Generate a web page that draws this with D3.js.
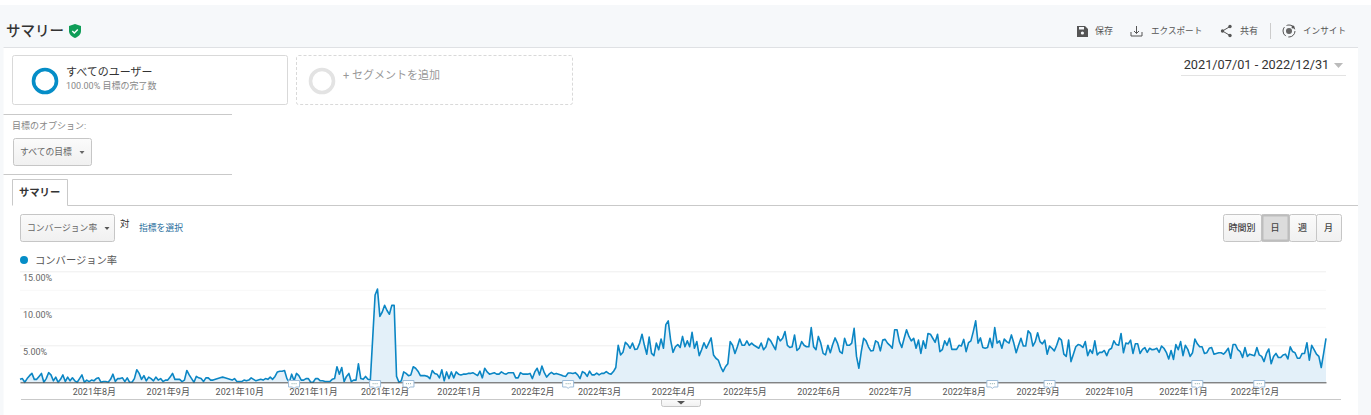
<!DOCTYPE html>
<html>
<head>
<meta charset="utf-8">
<script src="https://cdn.jsdelivr.net/npm/d3@7/dist/d3.min.js"></script>
<style>
  body { margin: 0; background: #fff; }
  svg { display: block; }
  text { font-family: Roboto, "Noto Sans CJK JP", sans-serif; }
</style>
</head>
<body>
<div class="chart"></div>
<script>
// daily conversion rate (%), one array per month
var jul21 = [.4,.5,0,.5,.9,1.2,.4,.4,.8,1.2,0,.5,1.3,1,.2,.7,0,.4,1,.1,.7,.2,.6,.2,0,.5,1,0,.3,.1,.3];
var aug21 = [.2,.5,.6,0,.1,.1,0,.4,1.1,.1,.5,.5,.6,.1,.6,0,0,.5,1.7,1.2,.4,.9,.2,.7,.5,.2,.7,.3,.5,.1,.3];
var sep21 = [.3,.7,1.2,.4,.4,.4,.1,.3,1.6,1,.5,0,.8,.6,.5,.1,.6,.6,.3,.3,.4,.5,.6,.7,.6,.5,.4,.3,.5,.1];
var oct21 = [.1,.1,.3,.2,.3,.6,.4,.2,.3,.4,.3,.5,.4,.7,.4,.8,1.4,1.5,1.5,1.6,.5,0,1.1,.2,1.2,.9,.3,.3,.5,.5,0];
var nov21 = [0,.5,.5,.2,.2,.1,.1,.1,.4,.5,2.1,1.1,2,.1,.8,1.2,.1,.3,.3,2.5,.5,.4,.8,.4,.3,6,11.8,12.6,8.9,9.5];
var dec21 = [10.4,9.7,9.2,10.4,10.4,.8,0,.2,1.4,1.2,.9,1,2.1,1.9,1.5,.9,.9,.9,.8,.5,1.6,1.2,1.1,.6,1.7,.2,1.4,.5,1.4,.6,1.4];
var jan22 = [1.1,1,1.1,1.1,1.2,1.2,1.3,1.1,.9,1.5,.6,1.9,1.4,1.1,1.2,1.3,1.1,1.1,1.4,1.2,1.1,1.3,1.3,1.3,.6,.6,1.3,1.1,1.1,1.1,1.2];
var feb22 = [.5,1.4,1.9,1,2.2,1.3,.7,1.1,1.35,1.1,1.2,1.1,1,.85,.8,1.25,1.25,1.2,1.3,1,.5,1.45,1.25,.8,1.5,1,1,1.25];
var mar22 = [1,1.2,1.2,1.45,1.2,1.1,1.45,2,5,3.7,4.05,5.4,5.1,4.6,5.3,4.45,4.5,5.3,6.5,5,3.8,6.1,3.9,3.6,5.3,4.4,5.85,4.6,7.8,8.3,5.7];
var apr22 = [4.05,4.8,5.1,4.7,6.2,4.8,5.6,4.8,6.75,4.6,5.5,3.6,4.4,5.35,4.6,5.3,6,3.7,3.25,3,2.1,1.45,2.1,2.5,5.5,5,3.9,4.8,5.85,5];
var may22 = [5,5.6,5,5.3,5,4.8,4.6,5.3,4.4,4.8,5.95,5.6,5,4.4,6.2,5.6,5.95,6.85,5,4.7,4.8,6.4,4.3,4.6,5.5,5,4.8,4.8,7.4,4.8,4.4];
var jun22 = [6.2,5.3,3.9,3.7,5,4,5.1,6,5.3,4.15,3.9,5.95,5,5,5.3,7.3,3.5,1.9,4.15,5.95,5.6,4.8,4.25,4.3,5.6,5.4,4.25,5.7,5.8,5.3];
var jul22 = [5,4.6,7.1,7.1,5.5,4.7,5.95,7.1,6.2,5.6,5.95,4.6,5.7,3.9,5.6,4.6,6.6,6.5,5.95,5.4,6.5,4.15,4.4,5.6,5,5.95,4.45,4.45,4.45,5,4.9];
var aug22 = [5.8,4.15,5.35,5.6,6.85,8.3,5.3,6,4.7,4.6,4.7,5.95,4.7,7.4,5.3,5.6,4.6,5.85,5.5,5.3,6.4,5.3,4,5,5.95,4.9,4.9,6.95,6.6,4.9,5.5];
var sep22 = [6.7,5.5,5.2,5.7,3.8,4.9,4.6,4.25,5,6,5.7,3.8,3.5,5.7,2.8,3.8,4.8,5.1,5,4.7,5.5,3.6,4.4,3.9,5.6,3.7,4.05,4.05,4.3,3.6];
var oct22 = [4.4,4.6,5.6,5.1,5,6.6,4,5.3,5.2,5.7,3.9,5.2,5.2,3.9,4.45,4.7,4.05,4.6,4.4,4.45,4.6,4.05,4.9,4.6,4.05,3.15,4.3,3.1,5.1,4.4,5.5];
var nov22 = [3.6,5,4.45,3.5,4,5.85,5.2,4.8,4.8,3.9,4,4.6,4.7,3.8,3.9,4,4,3.8,4.15,4.6,3.25,5.1,5.1,4.4,4.15,3.35,4.7,3.5,3.8,3.7];
var dec22 = [3.6,4.7,3.7,3.5,2.8,3.9,4.5,2.5,3.5,3.9,3.35,3.35,3.7,3.8,3.15,4.8,4.15,4,3.25,3.25,3.9,3.9,5.35,3,5,4.4,3.8,3.5,2,3.9,5.95];

var dailyRates = [jul21, aug21, sep21, oct21, nov21, dec21, jan22, feb22, mar22, apr22,
  may22, jun22, jul22, aug22, sep22, oct22, nov22, dec22].flat();

var yTicks = [0, 2.5, 5, 7.5, 10, 12.5, 15];
var yLabels = [5, 10, 15];
var monthTicks = ["2021-08-01", "2021-09-01", "2021-10-01", "2021-11-01", "2021-12-01", "2022-01-01",
  "2022-02-01", "2022-03-01", "2022-04-01", "2022-05-01", "2022-06-01", "2022-07-01", "2022-08-01",
  "2022-09-01", "2022-10-01", "2022-11-01", "2022-12-01"];
var noteDates = ["2021-10-24", "2021-11-27", "2021-12-11", "2022-02-16", "2022-08-13", "2022-09-06",
  "2022-11-07", "2022-12-03"];
var toggleLabels = ["時間別", "日", "週", "月"];
var startDay = new Date(Date.UTC(2021, 6, 1));
var endDay = new Date(Date.UTC(2022, 11, 31));

var svg = d3.select(".chart").append("svg").attr("width", 1371).attr("height", 415);

// page furniture
svg.append("rect").attr("x", 0).attr("y", 5).attr("width", 1371).attr("height", 42).attr("fill", "#f6f8fa");
svg.append("rect").attr("x", 0).attr("y", 5).attr("width", 3.5).attr("height", 410).attr("fill", "#f6f8fa");
svg.append("rect").attr("x", 1358).attr("y", 5).attr("width", 13).attr("height", 410).attr("fill", "#f6f8fa");

function hline(y, x1, x2, color) {
  svg.append("line").attr("x1", x1).attr("x2", x2).attr("y1", y).attr("y2", y).attr("stroke", color);
}
function label(str, x, y, size, color, weight) {
  return svg.append("text").attr("x", x).attr("y", y).attr("font-size", size)
    .attr("fill", color).attr("font-weight", weight || 400).text(str);
}
function tri(x, y, w, h, color) {
  svg.append("path").attr("d", `M${x - w / 2},${y}h${w}l${-w / 2},${h}z`).attr("fill", color);
}
function button(x, y, w, h, fill) {
  return svg.append("rect").attr("x", x + 0.5).attr("y", y + 0.5).attr("width", w).attr("height", h)
    .attr("rx", 2).attr("fill", fill || "url(#btn)").attr("stroke", "#c6c6c6");
}

var grad = svg.append("defs").append("linearGradient").attr("id", "btn").attr("x2", 0).attr("y2", 1);
grad.append("stop").attr("offset", 0).attr("stop-color", "#fbfbfb");
grad.append("stop").attr("offset", 1).attr("stop-color", "#f0f0f0");

hline(47.5, 3.5, 1358, "#dfe1e4");
hline(114.5, 3.5, 232, "#c9c9c9");
hline(174.5, 3.5, 232, "#c9c9c9");

// header
label("サマリー", 6, 36, 14.5, "#333", 500);
svg.append("path").attr("d", "M75,24l6,2v5c0,3.5-2.5,5.5-6,7c-3.5-1.5-6-3.5-6-7v-5z").attr("fill", "#0f9d58");
svg.append("path").attr("d", "M72.3,31l2,2l3.5-3.6").attr("fill", "none").attr("stroke", "#fff").attr("stroke-width", 1.4);

// toolbar icons
svg.append("path").attr("d", "M1077,26h8l3,3v8h-11z").attr("fill", "#555");
svg.append("rect").attr("x", 1079).attr("y", 27).attr("width", 5).attr("height", 2.5).attr("fill", "#f6f8fa");
svg.append("circle").attr("cx", 1082.4).attr("cy", 33).attr("r", 1.6).attr("fill", "#f6f8fa");
svg.append("path").attr("d", "M1131,32v4h11v-4M1136.5,26v7.5M1134,31l2.5,2.5l2.5-2.5").attr("fill", "none").attr("stroke", "#555");
svg.append("path").attr("d", "M1230,26.5l-7.5,4.5l7.5,4.5").attr("fill", "none").attr("stroke", "#555");
svg.append("circle").attr("cx", 1230).attr("cy", 26.5).attr("r", 1.7).attr("fill", "#555");
svg.append("circle").attr("cx", 1222.5).attr("cy", 31).attr("r", 1.7).attr("fill", "#555");
svg.append("circle").attr("cx", 1230).attr("cy", 35.5).attr("r", 1.7).attr("fill", "#555");
svg.append("line").attr("x1", 1270.5).attr("x2", 1270.5).attr("y1", 23).attr("y2", 39).attr("stroke", "#ccc");
svg.append("circle").attr("cx", 1289).attr("cy", 31).attr("r", 6).attr("fill", "none").attr("stroke", "#555").attr("stroke-dasharray", "10 2.5");
svg.append("circle").attr("cx", 1289).attr("cy", 31).attr("r", 3).attr("fill", "#666");
svg.append("circle").attr("cx", 1293).attr("cy", 27).attr("r", 1.5).attr("fill", "#555");
label("保存", 1095, 34, 9, "#555");
label("エクスポート", 1151, 34, 8.6, "#555");
label("共有", 1240, 34, 9, "#555");
label("インサイト", 1303, 34, 8.6, "#555");

// segments
svg.append("rect").attr("x", 12.5).attr("y", 55.5).attr("width", 275).attr("height", 49).attr("rx", 2)
  .attr("fill", "#fff").attr("stroke", "#d9d9d9");
svg.append("rect").attr("x", 296.5).attr("y", 55.5).attr("width", 276).attr("height", 49).attr("rx", 2)
  .attr("fill", "#fff").attr("stroke", "#d9d9d9").attr("stroke-dasharray", "3 2");
svg.append("circle").attr("cx", 45).attr("cy", 81).attr("r", 11.5).attr("fill", "none").attr("stroke", "#058dc7").attr("stroke-width", 3.6);
svg.append("circle").attr("cx", 322).attr("cy", 81).attr("r", 11.5).attr("fill", "none").attr("stroke", "#e3e3e3").attr("stroke-width", 3.6);
label("すべてのユーザー", 66, 75.5, 11, "#333");
label("100.00% 目標の完了数", 66, 89, 9, "#888");
label("+ セグメントを追加", 343, 79, 11, "#999");

// date range
label("2021/07/01 - 2022/12/31", 1183.7, 69, 12.75, "#333");
tri(1338.5, 63, 9, 5, "#bbb");
hline(75.5, 1181, 1346, "#e3e3e3");

// goal option
label("目標のオプション:", 12, 129, 9, "#888");
button(13, 138, 78, 27);
label("すべての目標", 20, 155, 8.8, "#666");
tri(82, 151, 5, 3, "#666");

// tab
svg.append("path").attr("d", "M12.5,205.5v-26h55v26").attr("fill", "#fff").attr("stroke", "#c9c9c9");
hline(205.5, 67.5, 1358, "#c9c9c9");
label("サマリー", 19, 196, 10.3, "#333", 700);

// metric selector
button(20, 214, 94, 27);
label("コンバージョン率", 27, 231, 8.8, "#666");
tri(107, 227, 5, 3, "#555");
label("対", 120, 227, 9.5, "#333");
label("指標を選択", 139, 231, 8.8, "#2a6f9e");

// period toggle
var toggleEdges = [1223, 1261, 1289, 1316, 1341];
toggleLabels.forEach(function (t, i) {
  var x0 = toggleEdges[i];
  var w = toggleEdges[i + 1] - x0;
  button(x0, 214, w, 27, i === 1 ? "#dcdcdc" : null);
  label(t, x0 + w / 2, 231, 9, "#444", 500).attr("text-anchor", "middle");
});
svg.append("rect").attr("x", 1262.5).attr("y", 215.5).attr("width", 26).attr("height", 25)
  .attr("fill", "none").attr("stroke", "#bdbdbd").attr("stroke-width", 2);

// legend
svg.append("circle").attr("cx", 24).attr("cy", 260).attr("r", 4).attr("fill", "#058dc7");
label("コンバージョン率", 35, 264, 10.3, "#555");

// scales
var xScale = d3.scaleUtc().domain([startDay, endDay]).range([20, 1326]);
var yScale = d3.scaleLinear().domain([0, 15]).range([382.3, 271.3]);
var dayOf = (i) => d3.utcDay.offset(startDay, i);

// grid and y labels
var yAxis = d3.axisRight(yScale)
  .tickValues(yTicks)
  .tickSize(1306)
  .tickFormat((d) => (yLabels.includes(d) ? d.toFixed(2) + "%" : ""));
var yGroup = svg.append("g").attr("transform", "translate(20,0)").call(yAxis);
yGroup.select(".domain").remove();
yGroup.selectAll("line").attr("stroke", (d) => (d % 5 === 0 ? "#eeeeee" : "#f8f8f8"));
yGroup.selectAll("text")
  .attr("x", 3).attr("dy", 9).attr("text-anchor", "start")
  .attr("font-size", 9).attr("fill", "#666")
  .style("font-family", "Roboto, sans-serif");

// area and line
var area = d3.area()
  .x((d, i) => xScale(dayOf(i)))
  .y0(yScale(0))
  .y1((d) => yScale(d));
var line = d3.line()
  .x((d, i) => xScale(dayOf(i)))
  .y((d) => yScale(d));
svg.append("path").datum(dailyRates).attr("d", area).attr("fill", "#e3f0f9");
svg.append("path").datum(dailyRates).attr("d", line).attr("fill", "none")
  .attr("stroke", "#0b86c4").attr("stroke-width", 1.6).attr("stroke-linejoin", "round");

// x axis
var xAxis = d3.axisBottom(xScale)
  .tickValues(monthTicks.map((d) => new Date(d + "T00:00:00Z")))
  .tickSize(0)
  .tickPadding(6)
  .tickFormat((d) => d.getUTCFullYear() + "年" + (d.getUTCMonth() + 1) + "月");
var xGroup = svg.append("g").attr("transform", "translate(0,382.3)").call(xAxis);
xGroup.select(".domain").attr("stroke", "#555");
xGroup.selectAll("text").attr("font-size", 9).attr("fill", "#555")
  .style("font-family", 'Roboto, "Noto Sans CJK JP", sans-serif');

// annotation markers
var notes = svg.append("g").selectAll("g")
  .data(noteDates)
  .enter()
  .append("g")
  .attr("transform", (d) => `translate(${xScale(new Date(d + "T00:00:00Z"))},380)`);
notes.append("path").attr("d", "M-5.5,0.5h11v6.5h-4l-1.5,1.5l-1.5-1.5h-4z")
  .attr("fill", "#fff").attr("stroke", "#9dbcd8");
notes.append("line").attr("x1", -2.5).attr("x2", 2.5).attr("y1", 3.7).attr("y2", 3.7)
  .attr("stroke", "#8aa").attr("stroke-dasharray", "1 1");

// bottom strip and handle
hline(399.5, 21, 1341, "#c9c9c9");
svg.append("path").attr("d", "M661.5,399.5h39v5a2,2 0 0 1 -2,2h-35a2,2 0 0 1 -2,-2z").attr("fill", "url(#btn)").attr("stroke", "#c6c6c6");
tri(681, 401, 8, 3.5, "#555");
</script>
</body>
</html>
